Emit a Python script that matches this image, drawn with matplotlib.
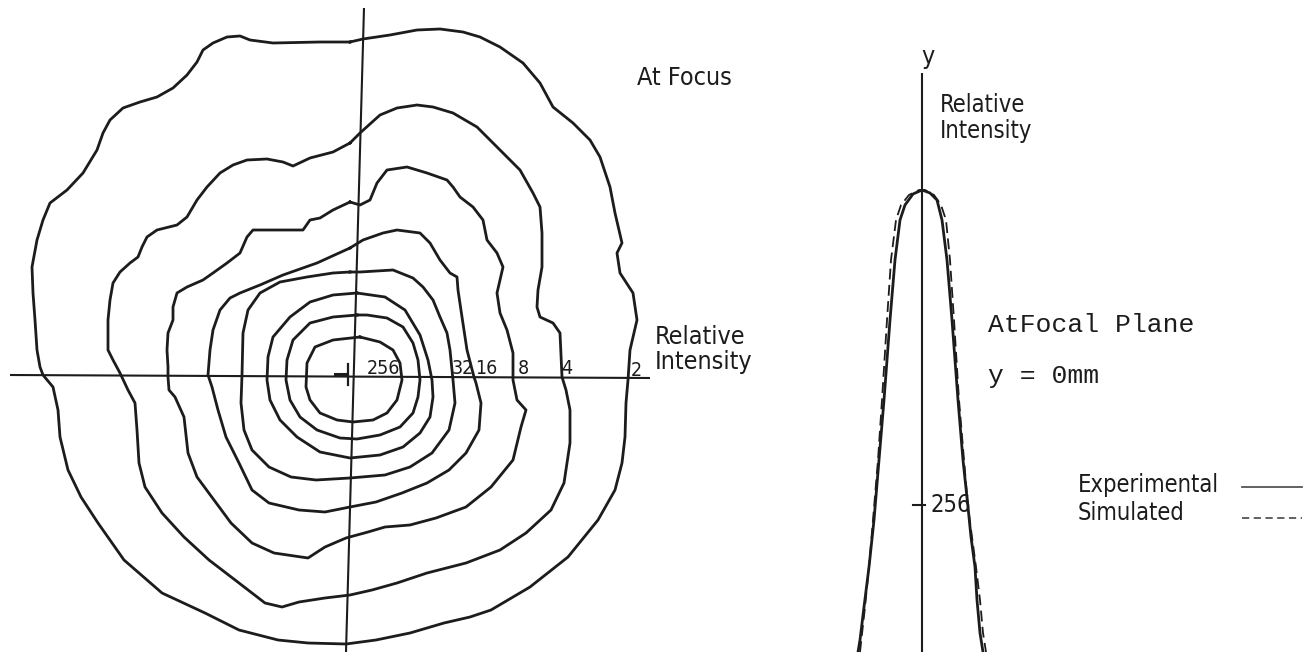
import numpy as np
import matplotlib
matplotlib.use("Agg")
import matplotlib.pyplot as plt
from matplotlib import font_manager as fm

# ---------------------------------------------------------------
# Iso-intensity contours of the focal spot (relative intensity),
# coordinates in drawing units, origin at the beam axis
# ---------------------------------------------------------------
c2_x = [-3, -33, -80, -103, -113, -126, -140, -150, -156, -166, -180, -196, -213, -230,
        -243, -250, -256, -270, -286, -303, -310, -316, -321, -320, -318, -316, -313, -310,
        -300, -295, -293, -285, -272, -255, -229, -191, -148, -114, -75, -45, -7, 23, 57,
        91, 117, 138, 177, 215, 245, 262, 269, 272, 273, 275, 277, 284, 280, 267, 264, 269,
        262, 257, 247, 237, 220, 200, 187, 170, 147, 127, 110, 87, 64, 37, 10]
c2_y = [335, 335, 334, 337, 341, 340, 334, 327, 315, 302, 289, 280, 275, 269,
        257, 244, 227, 204, 187, 174, 157, 137, 110, 84, 57, 27, 10, 2,
        -10, -33, -60, -93, -120, -146, -183, -216, -236, -253, -263, -266, -267, -263, -256,
        -246, -240, -233, -210, -180, -143, -113, -86, -60, -26, -3, 27, 57, 84, 104, 124, 134,
        164, 190, 220, 237, 254, 270, 294, 314, 330, 340, 345, 348, 347, 342, 338]

c4_x = [-3, -20, -43, -60, -70, -86, -106, -120, -133, -146, -156, -166, -176, -196, -206,
        -211, -215, -223, -233, -240, -243, -245, -245, -240, -233, -225, -218, -216, -214,
        -208, -191, -169, -144, -114, -88, -71, -54, -28, -3, 19, 44, 74, 113, 147, 173, 198,
        211, 217, 217, 213, 209, 207, 200, 187, 184, 185, 189, 189, 187, 180, 167, 154, 140,
        124, 100, 80, 64, 44, 27, 7]
c4_y = [234, 225, 219, 211, 215, 218, 217, 212, 204, 190, 177, 160, 152, 147, 140,
        130, 120, 114, 105, 94, 77, 57, 27, 17, 4, -13, -26, -53, -86,
        -110, -136, -160, -183, -206, -226, -230, -225, -221, -218, -213, -206, -196, -186, -173, -156, -133,
        -106, -66, -33, -13, 0, 44, 54, 60, 70, 87, 110, 144, 170, 184, 207, 220, 234,
        250, 264, 270, 272, 269, 262, 244]

c8_x = [-3, -20, -33, -43, -50, -70, -100, -106, -113, -126, -140, -150, -166, -176, -180,
        -180, -185, -186, -185, -185, -184, -178, -169, -165, -156, -139, -122, -101, -79,
        -45, -28, -7, 15, 32, 57, 83, 113, 138, 160, 168, 173, 164, 160, 160, 154, 147, 144,
        147, 150, 144, 134, 130, 120, 107, 100, 94, 74, 54, 34, 24, 17, 7]
c8_y = [175, 167, 159, 157, 147, 147, 147, 140, 124, 114, 104, 97, 90, 84, 70,
        57, 44, 27, 10, 0, -13, -20, -40, -76, -100, -123, -146, -166, -176,
        -181, -170, -161, -155, -150, -148, -141, -130, -110, -83, -50, -33, -23, -3, 24, 47, 64, 84,
        97, 110, 124, 137, 157, 170, 180, 190, 197, 204, 210, 207, 194, 177, 172]

c16_x = [-3, -36, -70, -93, -113, -123, -133, -140, -143, -145, -141, -135, -127, -114, -101,
         -84, -54, -28, -3, 23, 49, 74, 96, 113, 126, 128, 123, 121, 114, 109, 105, 104, 97,
         87, 77, 67, 44, 30, 10]
c16_y = [129, 114, 102, 92, 84, 79, 67, 47, 27, 2, -10, -33, -60, -86, -113,
         -126, -133, -135, -130, -125, -116, -106, -93, -76, -53, -26, -6, 0, 27, 60, 87, 100, 104,
         117, 134, 144, 147, 144, 137]

c32_x = [-3, -20, -46, -73, -93, -105, -110, -111, -112, -109, -101, -84, -62, -37, -3, 32,
         57, 79, 96, 102, 100, 97, 94, 87, 80, 70, 60, 40, 7]
c32_y = [105, 104, 100, 95, 84, 67, 44, 2, -26, -53, -73, -90, -100, -103, -101, -98,
         -90, -76, -53, -26, -3, 27, 44, 60, 77, 90, 99, 107, 105]

c64_x = [4, -20, -43, -63, -80, -85, -86, -83, -73, -56, -33, -3, 27, 50, 67, 77, 80, 79,
         75, 67, 52, 32]
c64_y = [84, 82, 75, 60, 40, 20, -3, -23, -43, -60, -75, -81, -78, -70, -56, -40, -20, -3,
         17, 42, 67, 80]

c128_x = [4, -20, -43, -60, -66, -67, -63, -53, -36, -13, 4, 27, 47, 60, 65, 67, 65, 60,
          50, 34, 14]
c128_y = [62, 60, 54, 37, 17, -3, -23, -40, -53, -61, -62, -58, -50, -36, -20, -3, 17, 34,
          50, 59, 62]

c256_x = [7, -20, -38, -46, -47, -43, -33, -16, 0, 20, 34, 44, 49, 47, 40, 27]
c256_y = [40, 37, 30, 14, -10, -23, -36, -43, -45, -43, -36, -23, -3, 14, 27, 35]

contour_levels = [2, 4, 8, 16, 32, 64, 128, 256]
contour_x = [c2_x, c4_x, c8_x, c16_x, c32_x, c64_x, c128_x, c256_x]
contour_y = [c2_y, c4_y, c8_y, c16_y, c32_y, c64_y, c128_y, c256_y]

# levels written along the horizontal axis
labelled_levels = [256, 32, 16, 8, 4, 2]

# ---------------------------------------------------------------
# Intensity profile through the focus (y = 0 mm)
# ---------------------------------------------------------------
exp_left_x = [0, -9, -17, -22, -27, -32, -38, -43, -48, -53, -58, -62, -64]
exp_left_i = [571, 567, 556, 541, 501, 441, 361, 301, 241, 194, 154, 121, 109]
exp_right_x = [0, 8, 15, 20, 25, 30, 36, 41, 46, 49, 53, 55, 58, 61]
exp_right_i = [571, 568, 561, 541, 501, 441, 361, 301, 254, 224, 194, 161, 128, 109]

sim_left_x = [-3, -13, -21, -26, -31, -35, -40, -44, -49, -53, -57, -62]
sim_left_i = [571, 566, 556, 541, 501, 441, 361, 301, 241, 194, 154, 109]
sim_right_x = [3, 12, 19, 24, 28, 32, 37, 42, 46, 50, 54, 58, 61, 64]
sim_right_i = [571, 566, 556, 541, 501, 441, 361, 301, 254, 224, 194, 161, 128, 109]

profile_tick = 256

# ---------------------------------------------------------------
INK = "#1c1c1c"

names = {f.name for f in fm.fontManager.ttflist}
if "Liberation Sans Narrow" in names:
    SANS = dict(family="Liberation Sans Narrow")
else:
    SANS = dict(family="DejaVu Sans", stretch="condensed")
MONO = dict(family="Liberation Mono" if "Liberation Mono" in names else "DejaVu Sans Mono")

fig = plt.figure(figsize=(13.12, 6.52), dpi=100)
fig.patch.set_facecolor("white")

# ---- left panel: contour map ----
ax = fig.add_axes([0, 0, 670 / 1312, 1])
ax.set_xlim(-353, 317)
ax.set_ylim(-275, 377)
ax.axis("off")

# hand-ruled axes (slightly off square)
ax.plot([-343, 297], [2, -1], color=INK, lw=1.5, solid_capstyle="butt")
ax.plot([11, -7], [369, -275], color=INK, lw=1.5, solid_capstyle="butt")
# centre mark
ax.plot([-18, -6], [3, 3], color=INK, lw=2.2)
ax.plot([-5, -5], [-8, 13], color=INK, lw=1.6)

for xs, ys in zip(contour_x, contour_y):
    xs = np.append(xs, xs[0])
    ys = np.append(ys, ys[0])
    ax.plot(xs, ys, color=INK, lw=2.0, solid_joinstyle="round")

label_pos = {256: (30, 9), 32: (110, 9), 16: (133, 9), 8: (170, 9), 4: (214, 9), 2: (283, 7)}
for lev in labelled_levels:
    px, py = label_pos[lev]
    ax.text(px, py, str(lev), ha="center", va="center", fontsize=14, color=INK, **SANS)

ax.text(284, 299, "At Focus", ha="left", va="center", fontsize=18, color=INK, **SANS)
ax.text(302, 52, "Relative\nIntensity", ha="left", va="top", fontsize=18, color=INK,
        linespacing=1.05, **SANS)

# ---- right panel: profile ----
bx = fig.add_axes([800 / 1312, 0, 512 / 1312, 1])
bx.set_xlim(-122, 390)
bx.set_ylim(109, 761)
bx.axis("off")

bx.plot([0, 0], [109, 688], color=INK, lw=1.5, solid_capstyle="butt")
bx.plot([-9, 3], [profile_tick, profile_tick], color=INK, lw=1.5)
bx.text(8, profile_tick, str(profile_tick), ha="left", va="center", fontsize=17, color=INK, **SANS)

bx.plot(exp_left_x[::-1] + exp_right_x, exp_left_i[::-1] + exp_right_i,
        color=INK, lw=2.0, solid_joinstyle="round")
bx.plot(sim_left_x[::-1] + sim_right_x, sim_left_i[::-1] + sim_right_i,
        color=INK, lw=1.3, ls=(0, (6, 3)))

bx.text(6, 704, "y", ha="center", va="center", fontsize=18, color=INK, **SANS)
bx.text(18, 668, "Relative\nIntensity", ha="left", va="top", fontsize=17, color=INK,
        linespacing=1.1, **SANS)
bx.text(66, 436, "AtFocal Plane", ha="left", va="center", fontsize=19, color=INK, **MONO)
bx.text(66, 385, "y = 0mm", ha="left", va="center", fontsize=19, color=INK, **MONO)

bx.text(156, 276, "Experimental", ha="left", va="center", fontsize=17, color=INK, **SANS)
bx.text(156, 248, "Simulated", ha="left", va="center", fontsize=17, color=INK, **SANS)
bx.plot([320, 380], [274, 274], color="#555555", lw=1.3)
bx.plot([320, 380], [243, 243], color="#555555", lw=1.3, ls=(0, (4, 2.5)))

fig.savefig("out.png", dpi=100, facecolor="white")
